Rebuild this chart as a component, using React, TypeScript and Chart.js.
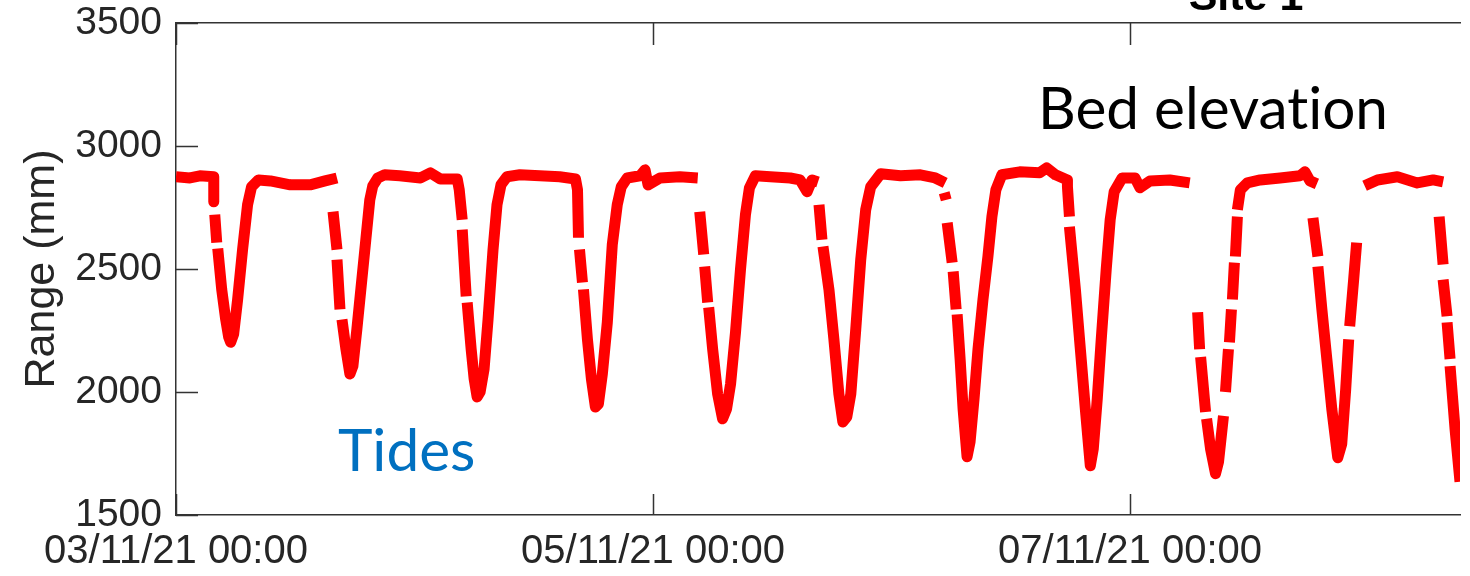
import React, { useEffect, useRef } from "react";
import { Chart, registerables } from "chart.js";

Chart.register(...registerables);

// Time since 03/11/21 00:00, in hours (null = gap in the record)
const hours: (number | null)[] = [
  0.0, 1.4, 2.4, 3.8, 3.8, 3.8, null,
  3.9, 4.1, null,
  4.2, 4.6, 5.0, 5.3, 5.5, 5.8, 6.2, 6.7, 7.2, 7.6, 8.3, 9.5, 11.5, 13.5, 15.0, 16.2, null,
  15.8, 16.2, null,
  16.2, 16.5, null,
  16.7, 17.1, 17.5, 17.8, 18.2, 18.6, 19.1, 19.5, 19.8, 20.3, 21.0, 22.5, 24.6, 25.6, 26.6, 28.3, 28.5, 28.8, null,
  28.8, 29.2, null,
  29.3, 29.7, 30.0, 30.3, 30.6, 31.0, 31.4, 31.9, 32.3, 32.7, 33.3, 34.6, 36.6, 38.6, 40.2, 40.4, 40.5, null,
  40.6, 40.9, null,
  41.0, 41.4, 41.8, 42.2, 42.5, 42.9, 43.4, 43.9, 44.4, 44.8, 45.4, 46.7, 47.2, 47.5, 48.7, 50.7, 52.5, null,
  52.7, 53.1, null,
  53.2, 53.5, null,
  53.6, 54.0, 54.5, 55.0, 55.4, 55.8, 56.3, 56.8, 57.3, 57.7, 58.3, 59.8, 61.8, 62.8, 63.5, 64.0, 64.6, null,
  64.7, 65.0, null,
  65.1, 65.7, 66.2, 66.7, 67.1, 67.5, 67.9, 68.4, 68.9, 69.4, 69.9, 70.9, 72.9, 74.9, 76.4, 77.4, null,
  77.3, 77.5, null,
  77.6, 78.1, null,
  78.2, 78.5, null,
  78.6, 78.9, 79.2, 79.6, 79.9, 80.3, 80.7, 81.2, 81.7, 82.1, 82.5, 83.1, 84.9, 86.9, 87.6, 88.5, 89.7, 89.7, 89.9, null,
  89.9, 90.5, 91.0, 91.5, 92.0, 92.3, 92.7, 93.1, 93.6, 94.0, 94.4, 95.2, 96.5, 97.0, 98.0, 100.0, 102.0, null,
  102.8, 103.0, null,
  103.1, 103.6, null,
  103.7, 104.1, 104.6, 104.9, 105.4, null,
  105.6, 105.9, null,
  106.0, 106.2, null,
  106.3, 106.5, null,
  106.6, 106.8, null,
  106.8, 107.1, 107.8, 109.1, 111.1, 113.1, 113.6, 114.1, 114.8, null,
  114.4, 114.9, null,
  114.9, 115.3, 115.8, 116.3, 116.9, 117.3, 117.7, 118.0, null,
  118.1, 118.5, 118.8, null,
  119.6, 120.9, 122.9, 124.9, 126.5, 127.5, null,
  127.1, 127.5, null,
  127.5, 127.9, null,
  127.9, 128.2, null,
  128.2, 128.7, 129.2,
];

// Sensor range (mm) at each time above
const rangeMm: (number | null)[] = [
  2875, 2870, 2879, 2875, 2842, 2773, null,
  2721, 2607, null,
  2583, 2417, 2295, 2223, 2202, 2235, 2376, 2579, 2761, 2834, 2862, 2858, 2842, 2842, 2858, 2870, null,
  2733, 2579, null,
  2538, 2336, null,
  2295, 2174, 2073, 2105, 2255, 2417, 2619, 2781, 2838, 2870, 2883, 2879, 2870, 2891, 2866, 2866, 2822, 2700, null,
  2660, 2389, null,
  2364, 2174, 2053, 1980, 2000, 2093, 2295, 2579, 2761, 2842, 2875, 2883, 2879, 2875, 2866, 2822, 2627, null,
  2579, 2445, null,
  2417, 2214, 2053, 1939, 1951, 2073, 2283, 2599, 2761, 2834, 2870, 2879, 2903, 2842, 2870, 2875, 2870, null,
  2733, 2559, null,
  2510, 2364, null,
  2344, 2174, 1992, 1891, 1931, 2032, 2243, 2498, 2721, 2830, 2879, 2875, 2870, 2862, 2814, 2862, 2854, null,
  2761, 2619, null,
  2591, 2417, 2214, 1992, 1878, 1899, 1992, 2255, 2538, 2741, 2834, 2887, 2879, 2883, 2870, 2850, null,
  2810, 2781, null,
  2688, 2526, null,
  2490, 2336, null,
  2316, 2134, 1931, 1737, 1797, 1972, 2174, 2376, 2551, 2713, 2822, 2883, 2895, 2891, 2911, 2883, 2862, 2834, 2713, null,
  2672, 2417, 2174, 1931, 1700, 1769, 1972, 2214, 2498, 2700, 2814, 2870, 2870, 2830, 2858, 2862, 2850, null,
  2324, 2174, null,
  2142, 1919, null,
  1891, 1769, 1668, 1716, 1903, null,
  2000, 2174, null,
  2202, 2336, null,
  2376, 2526, null,
  2551, 2713, null,
  2741, 2822, 2850, 2862, 2870, 2879, 2895, 2858, 2846, null,
  2708, 2551, null,
  2510, 2336, 2134, 1931, 1733, 1789, 2012, 2214, null,
  2267, 2457, 2607, null,
  2838, 2862, 2875, 2850, 2862, 2854, null,
  2713, 2518, null,
  2457, 2308, null,
  2283, 2134, null,
  2105, 1850, 1635,
];

const xTickHours = [0, 48, 96];
const xTickLabels = ["03/11/21 00:00", "05/11/21 00:00", "07/11/21 00:00"];
const yTicks = [1500, 2000, 2500, 3000, 3500];

const AXIS_COLOR = "#333333";
const TEXT_COLOR = "#262626";
const FONT = "'Liberation Sans', Arial, Helvetica, sans-serif";

const inwardTicks = {
  id: "inwardTicks",
  beforeDatasetsDraw(chart: any) {
    const { ctx, chartArea: a, scales } = chart;
    ctx.save();
    ctx.strokeStyle = AXIS_COLOR;
    ctx.lineWidth = 1.5;
    ctx.beginPath();
    yTicks.forEach((v) => {
      const py = Math.round(scales.y.getPixelForValue(v)) + 0.5;
      ctx.moveTo(a.left, py);
      ctx.lineTo(a.left + 22, py);
    });
    xTickHours.forEach((v) => {
      const px = Math.round(scales.x.getPixelForValue(v)) + 0.5;
      ctx.moveTo(px, a.bottom);
      ctx.lineTo(px, a.bottom - 21);
      ctx.moveTo(px, a.top);
      ctx.lineTo(px, a.top + 22);
    });
    ctx.stroke();
    ctx.restore();
  },
};

export default function App() {
  const ref = useRef<HTMLCanvasElement | null>(null);

  useEffect(() => {
    if (!ref.current) return;
    const data = hours.map((h, i) => ({ x: h, y: rangeMm[i] }));
    const chart = new Chart(ref.current, {
      type: "line",
      data: {
        datasets: [
          {
            label: "Range",
            data: data as any,
            borderColor: "#ff0000",
            borderWidth: 11,
            borderCapStyle: "butt",
            borderJoinStyle: "round",
            pointRadius: 0,
            pointHoverRadius: 0,
            spanGaps: false,
            tension: 0,
          },
        ],
      },
      options: {
        responsive: false,
        animation: false,
        devicePixelRatio: 1,
        layout: { padding: { left: 0, right: 10, top: 0, bottom: 0 } },
        plugins: {
          legend: { display: false },
          tooltip: { enabled: false },
          title: { display: false },
        },
        scales: {
          x: {
            type: "linear",
            position: "bottom",
            min: 0,
            max: 129.2,
            afterFit: (s: any) => {
              s.height = 61;
              s.paddingLeft = 0;
              s.paddingRight = 0;
            },
            afterBuildTicks: (s: any) => {
              s.ticks = xTickHours.map((v) => ({ value: v }));
            },
            ticks: {
              autoSkip: false,
              maxRotation: 0,
              padding: 13,
              color: TEXT_COLOR,
              font: { family: FONT, size: 40, lineHeight: 1.2 },
              callback: (_v: any, i: number) => xTickLabels[i],
            },
            grid: { display: true, drawOnChartArea: false, drawTicks: false },
            border: { display: true, color: AXIS_COLOR, width: 1.5 },
          },
          x2: {
            type: "linear",
            position: "top",
            min: 0,
            max: 129.2,
            afterFit: (s: any) => {
              s.height = 23;
              s.paddingLeft = 0;
              s.paddingRight = 0;
            },
            ticks: { display: false },
            grid: { display: true, drawOnChartArea: false, drawTicks: false },
            border: { display: true, color: AXIS_COLOR, width: 1.5 },
          },
          y: {
            type: "linear",
            position: "left",
            min: 1500,
            max: 3500,
            afterFit: (s: any) => {
              s.width = 176;
              s.paddingTop = 0;
              s.paddingBottom = 0;
            },
            afterBuildTicks: (s: any) => {
              s.ticks = yTicks.map((v) => ({ value: v }));
            },
            ticks: {
              padding: 14,
              color: TEXT_COLOR,
              font: { family: FONT, size: 39, lineHeight: 1.2 },
              callback: (v: any) => String(v),
            },
            title: {
              display: true,
              text: "Range (mm)",
              color: TEXT_COLOR,
              font: { family: FONT, size: 43, lineHeight: 1.2 },
              padding: { top: 16, bottom: 0 },
            },
            grid: { display: true, drawOnChartArea: false, drawTicks: false },
            border: { display: true, color: AXIS_COLOR, width: 1.5 },
          },
        },
      },
      plugins: [inwardTicks],
    });
    return () => chart.destroy();
  }, []);

  return (
    <div
      style={{
        position: "absolute",
        left: 0,
        top: 0,
        width: 1470,
        height: 576,
        overflow: "hidden",
        background: "#ffffff",
      }}
    >
      <canvas ref={ref} width={1470} height={576} style={{ display: "block" }} />
      <div
        style={{
          position: "absolute",
          left: 1246,
          top: -26,
          transform: "translateX(-50%)",
          whiteSpace: "nowrap",
          fontFamily: FONT,
          fontWeight: "bold",
          fontSize: 43,
          lineHeight: "43px",
          color: "#000000",
        }}
      >
        Site 1
      </div>
      <div
        style={{
          position: "absolute",
          left: 1038,
          top: 71,
          whiteSpace: "nowrap",
          fontFamily: "Lato, 'Open Sans', sans-serif",
          fontVariantLigatures: "none",
          fontSize: 58.5,
          lineHeight: 1.2,
          color: "#000000",
        }}
      >
        Bed elevation
      </div>
      <div
        style={{
          position: "absolute",
          left: 338,
          top: 413,
          whiteSpace: "nowrap",
          fontFamily: "Lato, 'Open Sans', sans-serif",
          fontVariantLigatures: "none",
          fontSize: 58.5,
          lineHeight: 1.2,
          color: "#0070c0",
        }}
      >
        Tides
      </div>
    </div>
  );
}
